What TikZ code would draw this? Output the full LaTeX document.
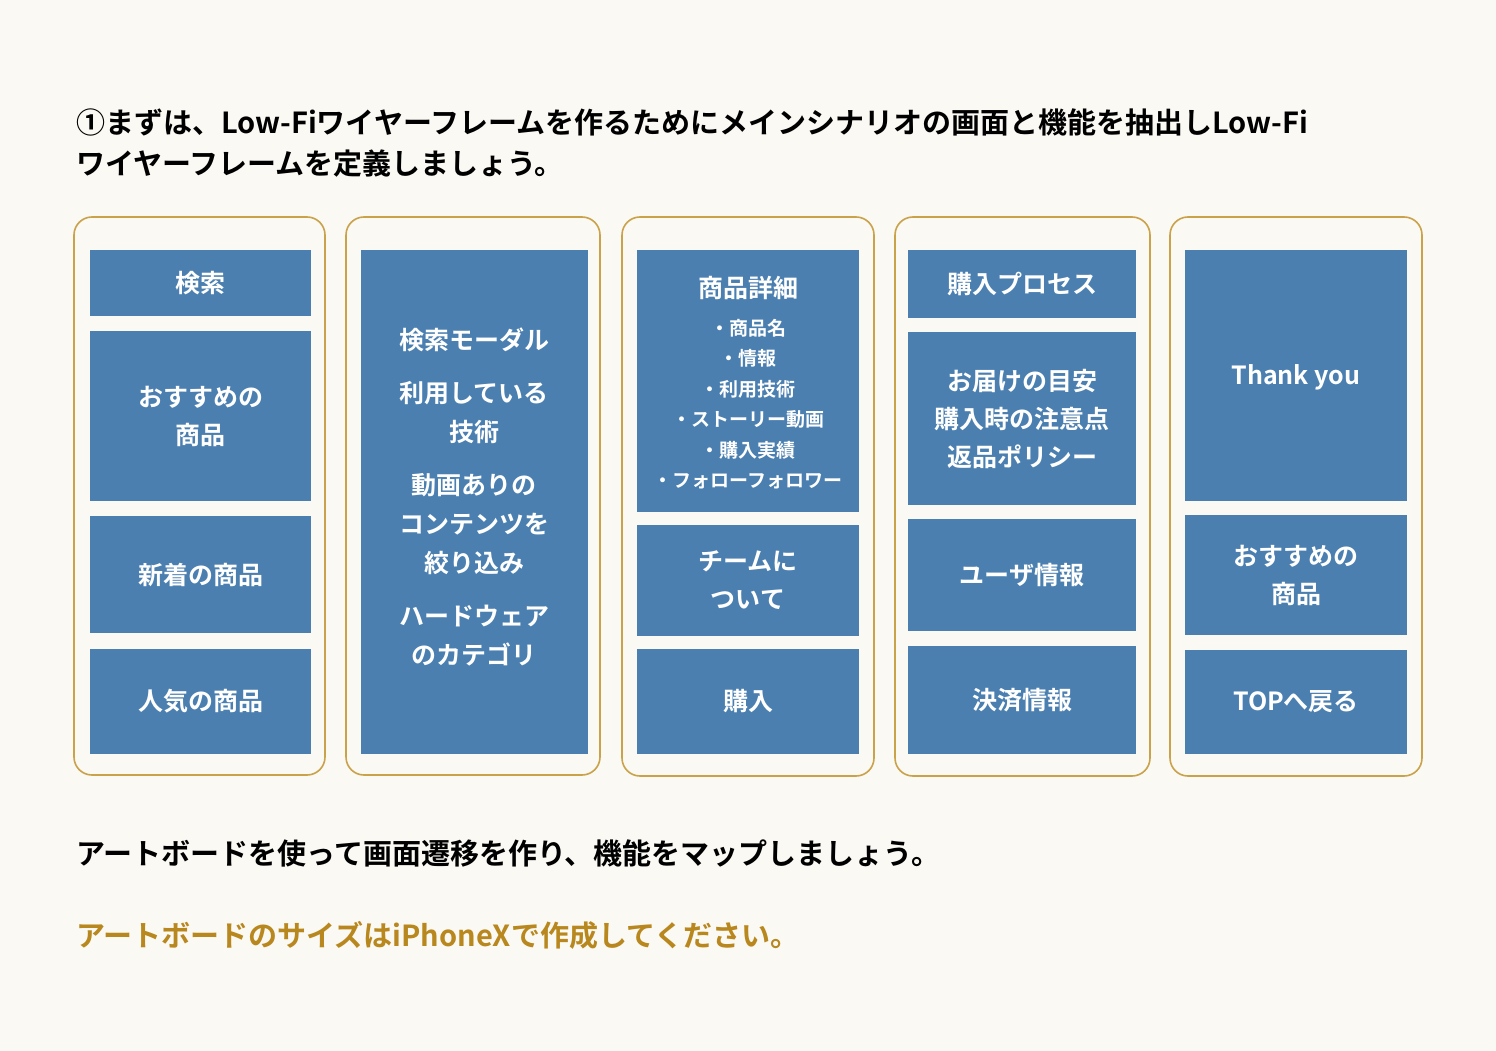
\documentclass[tikz,border=0pt]{standalone}
\usepackage{fontspec}
\setmainfont{Noto Sans CJK JP}[BoldFont={Noto Sans CJK JP Bold}]
\definecolor{paper}{HTML}{FBF9F3}
\definecolor{frameGold}{HTML}{C9A24A}
\definecolor{boxBlue}{HTML}{4A7FB0}
\definecolor{noteGold}{HTML}{B8871E}
\tikzset{
  phone/.style={draw=frameGold, line width=1.6pt, rounded corners=18pt},
  screen/.style={fill=boxBlue, text=white, font=\bfseries\fontsize{25}{38}\selectfont, align=center, inner sep=0pt},
  item/.style={font=\bfseries\fontsize{19}{30.5}\selectfont},
  lead/.style={anchor=west, font=\bfseries\fontsize{29}{41}\selectfont, align=left, inner sep=0pt}
}
\newcommand{\blk}[6]{% name, x1, y1, x2, y2, text
  \node[screen, minimum width=#4pt-#2pt, minimum height=#5pt-#3pt] (#1) at ({(#2+#4)/2},{(#3+#5)/2}) {#6};}
\begin{document}
\begin{tikzpicture}[x=1pt,y=-1pt]
\fill[paper] (0,0) rectangle (1496,1051);
\useasboundingbox (0,0) rectangle (1496,1051);

% heading
\node[lead] (head) at (76,143) {①まずは、Low-Fiワイヤーフレームを作るためにメインシナリオの画面と機能を抽出しLow-Fi\\ワイヤーフレームを定義しましょう。};

% phones
\draw[phone] (74,217) rectangle (325,775);
\draw[phone] (346,217) rectangle (600,775);
\draw[phone] (622,217) rectangle (874,776);
\draw[phone] (895,217) rectangle (1150,776);
\draw[phone] (1170,217) rectangle (1422,776);

% column 1
\blk{search}{90}{250}{311}{316}{検索}
\blk{recoA}{90}{331}{311}{501}{おすすめの\\商品}
\blk{newest}{90}{516}{311}{633}{新着の商品}
\blk{popular}{90}{649}{311}{754}{人気の商品}

% column 2
\blk{modal}{361}{250}{588}{754}{}
\node[screen, fill=none, font=\bfseries\fontsize{25}{39}\selectfont] (modalText) at (474,497)
  {検索モーダル\\[14pt]利用している\\技術\\[14pt]動画ありの\\コンテンツを\\絞り込み\\[14pt]ハードウェア\\のカテゴリ};

% column 3
\blk{detail}{637}{250}{859}{512}{}
\node[screen, fill=none] (detailTitle) at (748,288) {商品詳細};
\node[screen, fill=none, item] (detailItems) at (748,404)
  {・商品名\\・情報\\・利用技術\\・ストーリー動画\\・購入実績\\・フォローフォロワー};
\blk{team}{637}{525}{859}{636}{チームに\\ついて}
\blk{buy}{637}{649}{859}{754}{購入}

% column 4
\blk{process}{908}{250}{1136}{318}{購入プロセス}
\blk{notes}{908}{332}{1136}{505}{お届けの目安\\購入時の注意点\\返品ポリシー}
\blk{user}{908}{519}{1136}{631}{ユーザ情報}
\blk{pay}{908}{646}{1136}{754}{決済情報}

% column 5
\blk{thanks}{1185}{250}{1407}{501}{}
\node[screen, fill=none] (thanksText) at (1296,377) {Thank you};
\blk{recoB}{1185}{515}{1407}{635}{おすすめの\\商品}
\blk{top}{1185}{650}{1407}{754}{TOPへ戻る}

% notes
\node[lead] (flow) at (76,853) {アートボードを使って画面遷移を作り、機能をマップしましょう。};
\node[lead, text=noteGold] (size) at (76,935) {アートボードのサイズはiPhoneXで作成してください。};
\end{tikzpicture}
\end{document}
